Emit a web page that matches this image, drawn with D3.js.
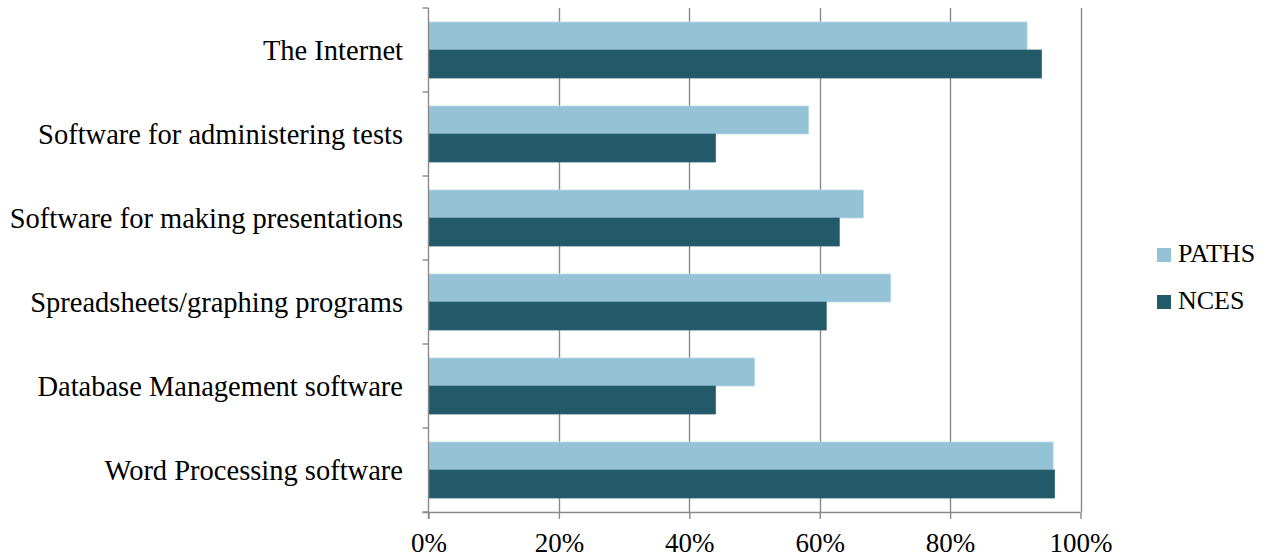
<!DOCTYPE html>
<html>
<head>
<meta charset="utf-8">
<script src="https://cdn.jsdelivr.net/npm/d3@7"></script>
<style>
  html, body { margin: 0; padding: 0; background: #fff; }
  svg { display: block; }
  text { font-family: "Liberation Serif", "DejaVu Serif", serif; fill: #000; }
</style>
</head>
<body>
<svg id="chart" width="1267" height="560"></svg>
<script>
// ---- data ----
const categories = [
  "The Internet",
  "Software for administering tests",
  "Software for making presentations",
  "Spreadsheets/graphing programs",
  "Database Management software",
  "Word Processing software"
];
const seriesNames = ["PATHS", "NCES"];
const pathsValues = [91.8, 58.3, 66.7, 70.9, 50.0, 95.8];
const ncesValues  = [94.0, 44.0, 63.0, 61.0, 44.0, 96.0];
const tickValues = [0, 20, 40, 60, 80, 100];
const tickLabels = ["0%", "20%", "40%", "60%", "80%", "100%"];

const colors = { PATHS: "#93c3d5", NCES: "#225a6a" };
const strokes = { PATHS: "#b9d9e5", NCES: "#2b6273" };

const seriesValues = { PATHS: pathsValues, NCES: ncesValues };
const rows = categories.map((c, i) => ({
  cat: c,
  vals: seriesNames.map(s => ({ key: s, value: seriesValues[s][i] }))
}));

(function () {
const svg = d3.select("#chart");
const pLeft = 428.5, pRight = 1080.5, pTop = 8, pBottom = 512;

const x = d3.scaleLinear().domain([0, 100]).range([pLeft, pRight]);
const y = d3.scaleBand().domain(categories).range([pTop, pBottom]).padding(0);
const ySub = d3.scaleBand().domain(seriesNames).range([0, y.bandwidth()])
  .paddingInner(0).paddingOuter(0.5);

const gridColor = "#8a8a8a";

// gridlines
svg.append("g").selectAll("line").data(tickValues.slice(1)).join("line")
  .attr("x1", d => Math.round(x(d)) + 0.5).attr("x2", d => Math.round(x(d)) + 0.5)
  .attr("y1", pTop).attr("y2", pBottom)
  .attr("stroke", gridColor).attr("stroke-width", 1.4);

// bars
const groups = svg.append("g").selectAll("g").data(rows).join("g")
  .attr("transform", d => `translate(0,${y(d.cat)})`);
groups.selectAll("rect").data(d => d.vals).join("rect")
  .attr("x", x(0))
  .attr("y", d => ySub(d.key))
  .attr("width", d => x(d.value) - x(0))
  .attr("height", ySub.bandwidth())
  .attr("fill", d => colors[d.key])
  .attr("stroke", d => strokes[d.key])
  .attr("stroke-width", 0.8);

// bottom axis
const xAxis = d3.axisBottom(x).tickValues(tickValues)
  .tickFormat((d, i) => tickLabels[i]).tickSize(7).tickSizeOuter(0).tickPadding(14);
const gx = svg.append("g").attr("transform", `translate(0,${pBottom})`).call(xAxis);
gx.select(".domain").attr("stroke", gridColor).attr("stroke-width", 1.4)
  .attr("d", `M${pLeft - 6},0.5H${pRight}`);
gx.selectAll(".tick line").attr("stroke", gridColor).attr("stroke-width", 1.4);
gx.selectAll(".tick text").attr("font-size", 27)
  .style("font-family", "'Liberation Serif', serif").attr("fill", "#000");

// left axis (ticks at category boundaries)
const boundaries = categories.map(c => y(c)).concat([y(categories[categories.length - 1]) + y.bandwidth()]);
svg.append("line").attr("x1", pLeft).attr("x2", pLeft).attr("y1", pTop).attr("y2", pBottom + 7)
  .attr("stroke", gridColor).attr("stroke-width", 1.4);
svg.append("g").selectAll("line").data(boundaries).join("line")
  .attr("x1", pLeft - 6).attr("x2", pLeft)
  .attr("y1", d => d).attr("y2", d => d)
  .attr("stroke", gridColor).attr("stroke-width", 1.4);

// category labels
svg.append("g").selectAll("text").data(categories).join("text")
  .attr("x", 403)
  .attr("y", d => y(d) + y.bandwidth() / 2)
  .attr("dy", "0.36em")
  .attr("text-anchor", "end")
  .attr("font-size", 28.5)
  .text(d => d);

// legend
const legend = svg.append("g").selectAll("g").data(seriesNames).join("g")
  .attr("transform", (d, i) => `translate(1157,${248 + i * 47})`);
legend.append("rect").attr("width", 14).attr("height", 14)
  .attr("fill", d => colors[d]);
legend.append("text").attr("x", 21).attr("y", 14)
  .attr("font-size", 26).text(d => d);
})();
</script>
</body>
</html>
